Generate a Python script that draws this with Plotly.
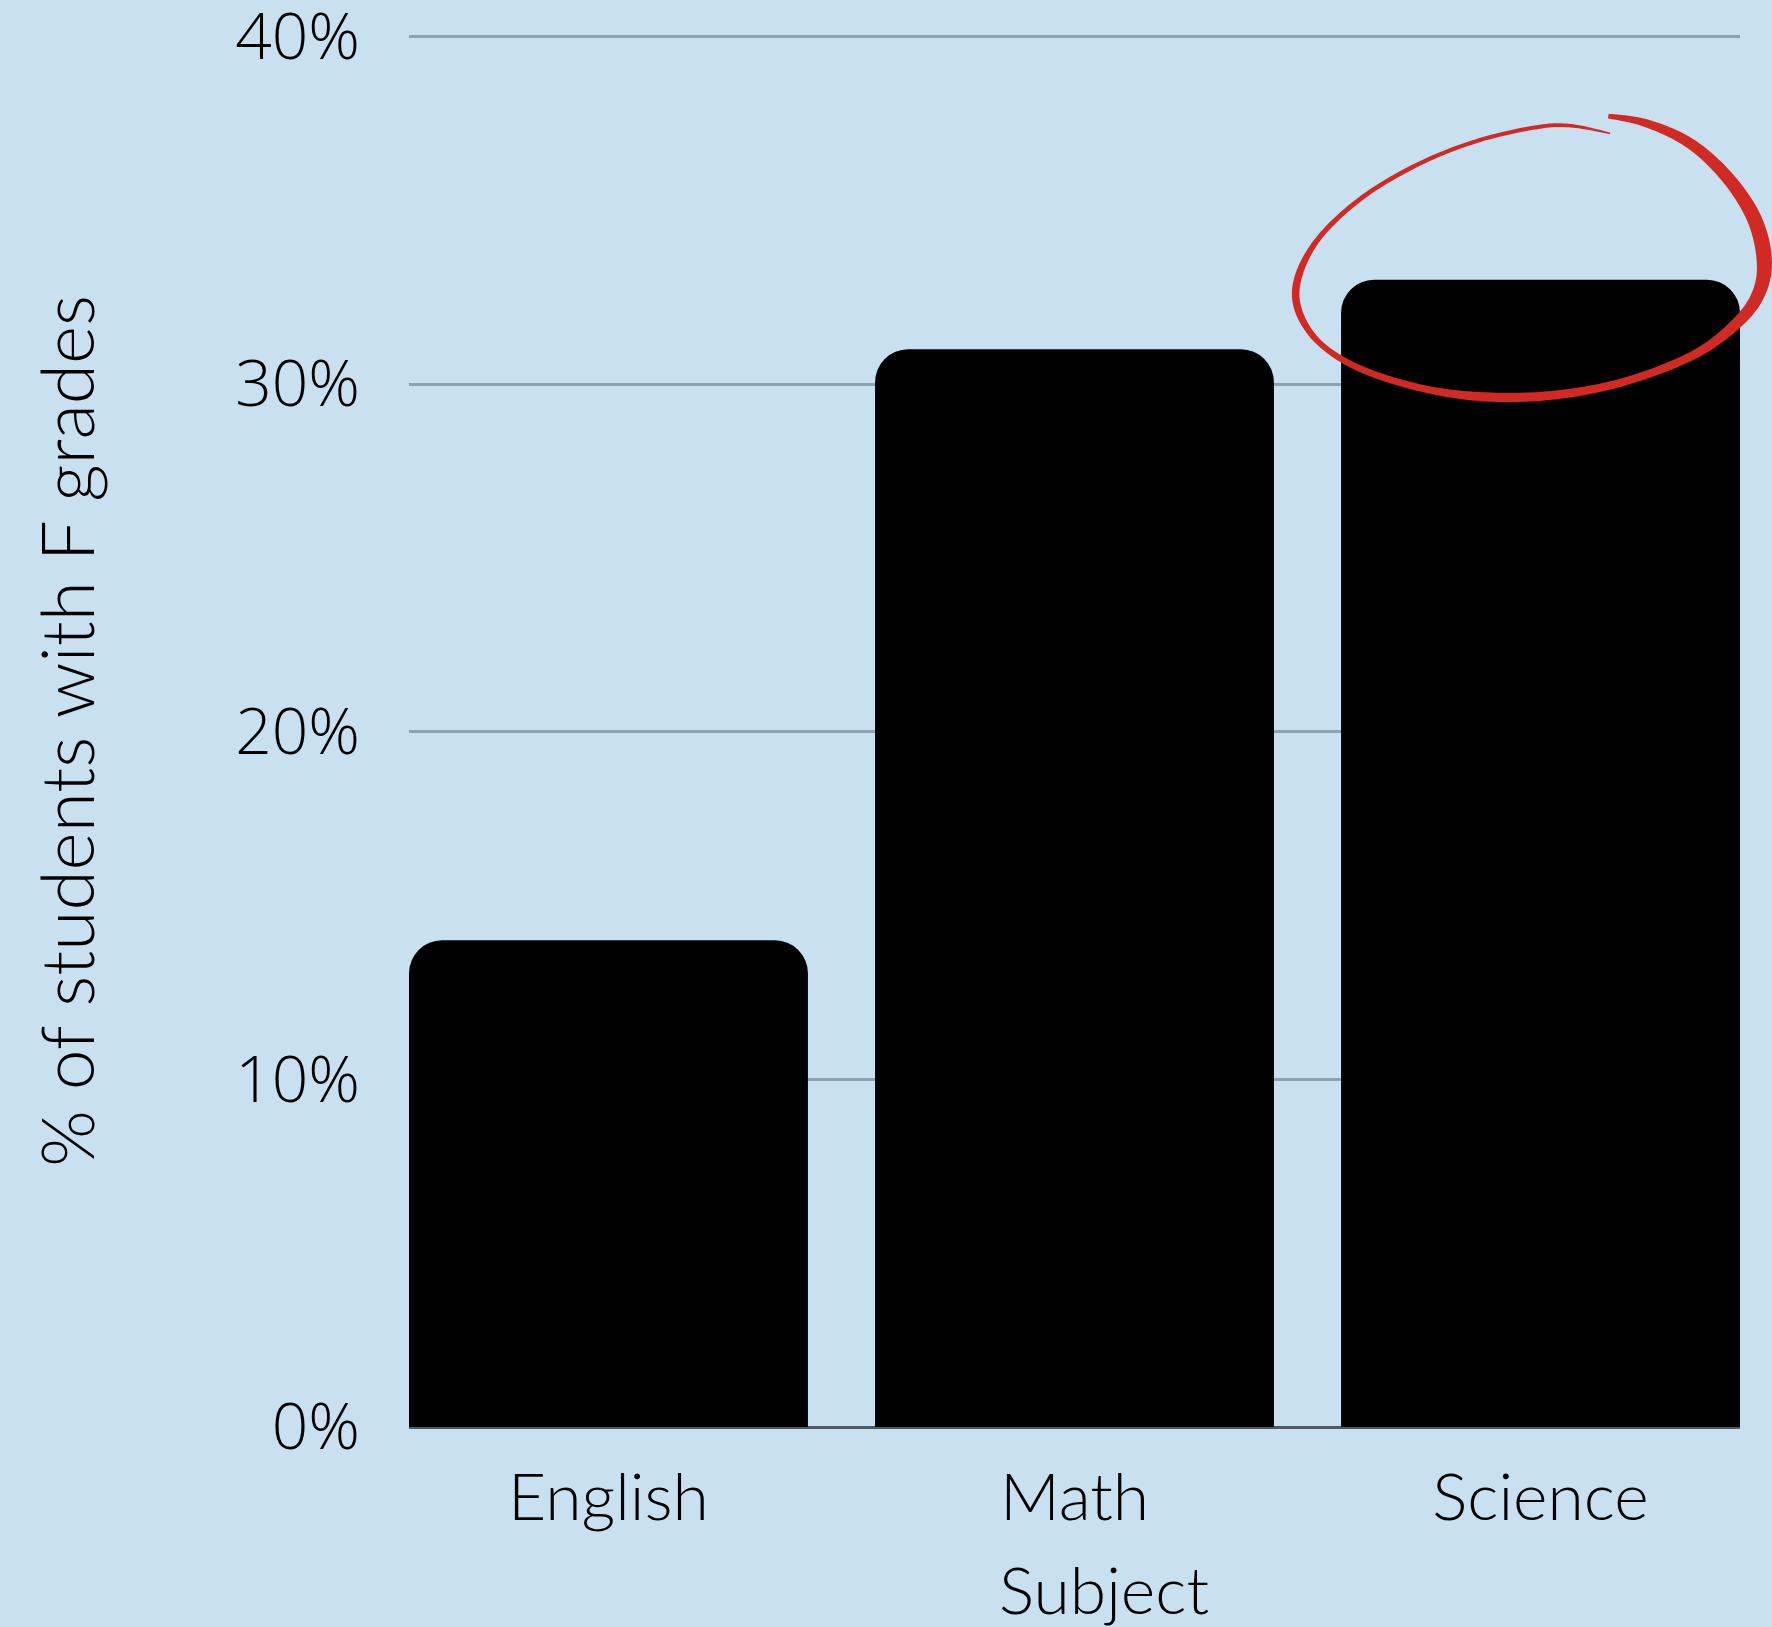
import numpy as np
import plotly.graph_objects as go

# ---- data ----
subjects = ["English", "Math", "Science"]
pct_f_grades = [14, 31, 33]
y_tick_vals = [0, 10, 20, 30, 40]
y_tick_text = ["0%", "10%", "20%", "30%", "40%"]
x_title = "Subject"
y_title = "% of students with F grades"

BG = "#c9e0f0"
RED = "#d12a25"

# plot area in pixels (for the hand-drawn highlight only)
W, H = 1772, 1627
L, R, T, B = 409, 32, 35, 200
PX0, PX1 = L, W - R
PY0, PY1 = T, H - B
YMAX = 40.04

fig = go.Figure()
fig.add_trace(go.Bar(
    x=subjects, y=pct_f_grades,
    marker=dict(color="#000000", cornerradius=33, line=dict(width=0)),
    hoverinfo="skip",
))

# ---- hand drawn red ellipse around Science (decoration) ----
cx = np.array([985, 1100, 1230, 1340, 1420, 1452, 1440, 1380, 1250, 1050, 850, 650, 450, 250, 120, 55, 55, 120, 250, 420, 600, 780, 880, 990], float)
cy = np.array([78, 100, 160, 260, 380, 500, 600, 690, 790, 870, 912, 922, 900, 840, 760, 660, 560, 440, 320, 220, 150, 110, 108, 130], float)
cw = np.array([14, 24, 32, 38, 44, 46, 40, 34, 26, 24, 26, 28, 22, 20, 18, 22, 22, 16, 14, 13, 12, 12, 10, 5], float)
P = np.column_stack([1280 + cx / 3, 90 + cy / 3, cw / 3])


def catmull(P, n=14):
    Q = np.vstack([P[0], P, P[-1]])
    out = []
    for i in range(1, len(Q) - 2):
        p0, p1, p2, p3 = Q[i - 1], Q[i], Q[i + 1], Q[i + 2]
        for t in np.linspace(0, 1, n, endpoint=False):
            t2, t3 = t * t, t * t * t
            out.append(0.5 * ((2 * p1) + (-p0 + p2) * t + (2 * p0 - 5 * p1 + 4 * p2 - p3) * t2 + (-p0 + 3 * p1 - 3 * p2 + p3) * t3))
    out.append(Q[-2])
    return np.array(out)


S = catmull(P)
xy = S[:, :2]
wd = S[:, 2]
d = np.gradient(xy, axis=0)
d /= np.linalg.norm(d, axis=1, keepdims=True) + 1e-9
nrm = np.column_stack([-d[:, 1], d[:, 0]])
outer = xy + nrm * wd[:, None] / 2
inner = xy - nrm * wd[:, None] / 2
poly = np.vstack([outer, inner[::-1]])


def to_paper(p):
    return (p[0] - PX0) / (PX1 - PX0), (PY1 - p[1]) / (PY1 - PY0)


pts = [to_paper(p) for p in poly]
path = "M " + " L ".join(f"{a:.5f},{b:.5f}" for a, b in pts) + " Z"
fig.add_shape(type="path", path=path, xref="paper", yref="paper",
              fillcolor=RED, line=dict(width=0), layer="above")

# ---- titles ----
fig.add_annotation(text=x_title, xref="paper", yref="paper",
                   x=(1104 - PX0) / (PX1 - PX0), y=(PY1 - 1588) / (PY1 - PY0),
                   xanchor="center", yanchor="middle", showarrow=False,
                   font=dict(family="Lato", size=66, color="#000000", weight=300))
fig.add_annotation(text=y_title, xref="paper", yref="paper",
                   x=(66 - PX0) / (PX1 - PX0), y=0.5, textangle=-90,
                   xanchor="center", yanchor="middle", showarrow=False,
                   font=dict(family="Lato", size=73, color="#000000", weight=300))

fig.update_layout(
    width=W, height=H,
    margin=dict(l=L, r=R, t=T, b=B, autoexpand=False),
    paper_bgcolor=BG, plot_bgcolor=BG,
    bargap=0.144,
    showlegend=False,
)
fig.update_xaxes(
    range=[-0.428, 2.428], showgrid=False, zeroline=False,
    showline=False, ticks="",
    tickfont=dict(family="Lato", size=66, color="#000000", weight=300),
    ticklabelstandoff=26, automargin=False,
)
fig.update_yaxes(
    range=[0, YMAX], tickvals=y_tick_vals, ticktext=y_tick_text,
    showgrid=True, gridcolor="#8ea2b2", gridwidth=2.5,
    zeroline=True, zerolinecolor="#4f5a66", zerolinewidth=2.5,
    showline=False, ticks="",
    tickfont=dict(family="Open Sans", size=64, color="#000000", weight=300),
    ticklabelstandoff=48, ticklabeloverflow="allow", automargin=False,
)

fig.write_html("out.html", config={"displayModeBar": False},
               post_script="document.body.style.margin='0';document.body.style.background='%s';" % BG)
